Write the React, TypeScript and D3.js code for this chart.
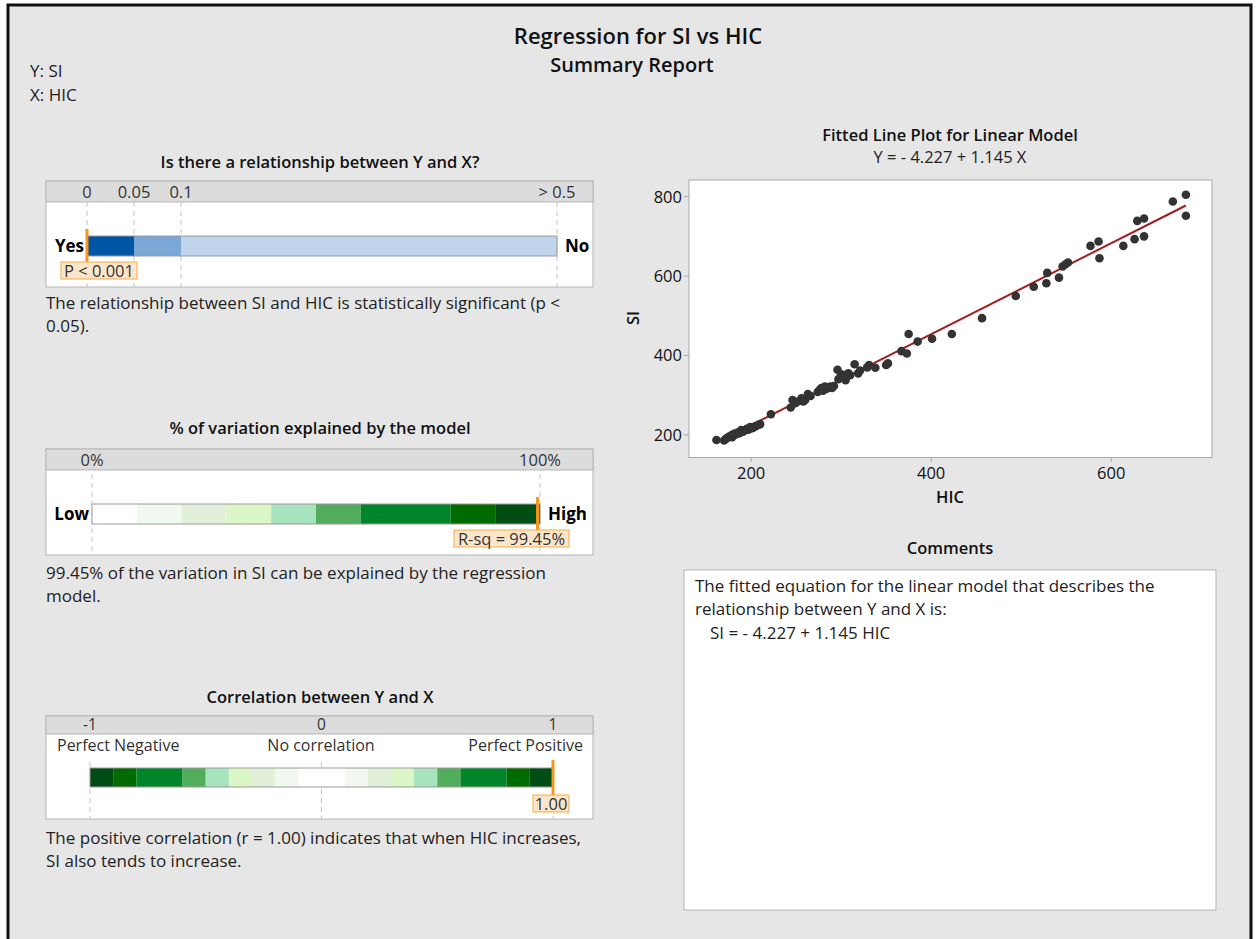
import * as d3 from "d3";

// ---- data ----
const HIC = [
  161.5, 170, 172, 174, 176, 178, 179, 181, 183, 185, 187, 189, 191, 193, 195, 197, 199, 201, 203, 205,
  208, 210, 222, 244, 246, 249, 252, 256, 258, 260, 263, 266, 274, 276, 278, 280, 282, 284, 286, 288,
  290, 292, 296, 297, 299, 301, 303, 305, 308, 310, 315, 319, 321, 329, 331, 338, 350, 352, 367, 373,
  375, 385, 401, 423, 456.5, 494, 514, 528, 529, 542, 546, 549, 552, 577, 586, 587, 613.5, 626, 629,
  636.5, 636.5, 668.5, 683, 683,
];
const SI = [
  187, 186, 190, 193, 196, 199, 194, 203, 201, 206, 204, 212, 208, 211, 215, 213, 220, 217, 219, 222,
  225, 227, 252, 269, 288, 280, 284, 292, 284, 288, 303, 298, 308, 313, 318, 311, 322, 316, 320, 322,
  318, 323, 364, 340, 345, 352, 349, 338, 355, 350, 378, 355, 362, 370, 376, 369, 376, 380, 411, 405,
  454, 435, 442, 454, 494, 550, 573, 582, 608, 596, 624, 629, 634, 676, 687, 645, 676, 693, 739,
  745, 700, 788, 805, 752,
];
const INTERCEPT = -4.227;
const SLOPE = 1.145;
const X_TICKS = [200, 400, 600];
const Y_TICKS = [200, 400, 600, 800];

const P_TICKS = [0, 0.05, 0.1, 0.5];
const P_TICK_LABELS = ["0", "0.05", "0.1", "> 0.5"];
const P_BREAKS = [0, 0.05, 0.1, 0.5];
const P_COLORS = ["#0055a5", "#7ba7d7", "#bfd3eb"];
const P_VALUE = 0;

const RSQ_TICKS = [0, 100];
const RSQ_TICK_LABELS = ["0%", "100%"];
const RSQ_BREAKS = [0, 10, 20, 30, 40, 50, 60, 80, 90, 100];
const GREENS = ["#ffffff", "#f1f8ef", "#e2f0da", "#dbf7c7", "#a7e3bd", "#52ad5d", "#00862a", "#006b00", "#004e15"];
const RSQ_VALUE = 99.45;

const R_TICKS = [-1, 0, 1];
const R_TICK_LABELS = ["-1", "0", "1"];
const R_BREAKS = [-1, -0.9, -0.8, -0.6, -0.5, -0.4, -0.3, -0.2, -0.1, 0.1, 0.2, 0.3, 0.4, 0.5, 0.6, 0.8, 0.9, 1];
const R_COLORS = [...GREENS.slice(1).reverse(), "#ffffff", ...GREENS.slice(1)];
const R_VALUE = 1.0;

const FONT = "'Open Sans', 'Noto Sans', sans-serif";
const BG = "#e6e6e6";
const ORANGE = "#f7941d";
const BODY = 17;
const SMALL = 16.5;

type GaugeProps = {
  top: number;
  bottom: number;
  headerH: number;
  tickSize?: number;
  scale: d3.ScaleLinear<number, number>;
  ticks: number[];
  tickLabels: string[];
  breaks: number[];
  colors: string[];
  value: number;
  barY: number;
  barH: number;
  dashTop: number;
  markerTop: number;
  markerBottom: number;
  label: string;
  labelBox: [number, number]; // x0, x1
  left: string;
  right: string;
};

function Gauge(p: GaugeProps) {
  const x0 = 46;
  const x1 = 593;
  const mx = p.scale(p.value);
  const [lx0, lx1] = p.labelBox;
  return (
    <g>
      <rect x={x0} y={p.top} width={x1 - x0} height={p.bottom - p.top} fill="#fff" stroke="#b5b5b5" />
      <rect x={x0} y={p.top} width={x1 - x0} height={p.headerH} fill="#dcdcdc" stroke="#b5b5b5" />
      {p.ticks.map((t, i) => (
        <g key={i}>
          <line
            x1={p.scale(t)}
            x2={p.scale(t)}
            y1={p.dashTop}
            y2={p.bottom}
            stroke="#c4c4c4"
            strokeDasharray="5,4"
          />
          <text
            x={p.scale(t)}
            y={p.top + p.headerH - 4}
            textAnchor="middle"
            fontSize={p.tickSize ?? SMALL}
            fill="#333"
          >
            {p.tickLabels[i]}
          </text>
        </g>
      ))}
      {p.colors.map((c, i) => (
        <rect
          key={i}
          x={p.scale(p.breaks[i])}
          y={p.barY}
          width={p.scale(p.breaks[i + 1]) - p.scale(p.breaks[i])}
          height={p.barH}
          fill={c}
        />
      ))}
      <rect
        x={p.scale(p.breaks[0])}
        y={p.barY}
        width={p.scale(p.breaks[p.breaks.length - 1]) - p.scale(p.breaks[0])}
        height={p.barH}
        fill="none"
        stroke="#9a9a9a"
      />
      {p.left && (
        <text x={p.scale(p.breaks[0]) - 3} y={p.barY + p.barH / 2 + 6} textAnchor="end" fontSize={17} fontWeight={700}>
          {p.left}
        </text>
      )}
      {p.right && (
        <text
          x={p.scale(p.breaks[p.breaks.length - 1]) + 8}
          y={p.barY + p.barH / 2 + 6}
          fontSize={17}
          fontWeight={700}
        >
          {p.right}
        </text>
      )}
      <line x1={mx} x2={mx} y1={p.markerTop} y2={p.markerBottom} stroke={ORANGE} strokeWidth={3} />
      <rect x={lx0} y={p.markerBottom} width={lx1 - lx0} height={17} fill="#fbe6cb" stroke="#f6ab45" />
      <text x={(lx0 + lx1) / 2} y={p.markerBottom + 14.5} textAnchor="middle" fontSize={SMALL} fill="#333">
        {p.label}
      </text>
    </g>
  );
}

export default function App() {
  const W = 1257;
  const H = 939;

  const pScale = d3.scaleLinear().domain(P_TICKS).range([87, 134, 181, 557]);
  const rsqScale = d3.scaleLinear().domain([0, 100]).range([92, 540]);
  const rScale = d3.scaleLinear().domain([-1, 1]).range([90, 553]);

  const x = d3.scaleLinear().domain([131, 712]).range([689, 1212]);
  const y = d3.scaleLinear().domain([143, 842]).range([457.5, 180]);
  const [minX, maxX] = d3.extent(HIC) as [number, number];
  const fit = d3
    .line<number>()
    .x((d) => x(d))
    .y((d) => y(INTERCEPT + SLOPE * d))([minX, maxX]);

  return (
    <div style={{ position: "absolute", left: 0, top: 0 }}>
      <svg width={W} height={H} style={{ display: "block", fontFamily: FONT }}>
        <rect x={0} y={0} width={W} height={H} fill="#fff" />
        <rect x={8} y={5} width={1243} height={H} fill={BG} stroke="#111" strokeWidth={3} />

        <text x={638} y={44} textAnchor="middle" fontSize={22} fontWeight={600} fill="#111">
          Regression for SI vs HIC
        </text>
        <text x={632} y={72} textAnchor="middle" fontSize={20} fontWeight={600} fill="#111">
          Summary Report
        </text>
        <text x={30} y={77} fontSize={BODY} fill="#222">Y: SI</text>
        <text x={30} y={101} fontSize={BODY} fill="#222">X: HIC</text>

        {/* relationship */}
        <text x={320} y={168} textAnchor="middle" fontSize={16.5} fontWeight={600} fill="#111">
          Is there a relationship between Y and X?
        </text>
        <Gauge
          top={181}
          bottom={287}
          headerH={21}
          scale={pScale}
          ticks={P_TICKS}
          tickLabels={P_TICK_LABELS}
          breaks={P_BREAKS}
          colors={P_COLORS}
          value={P_VALUE}
          barY={236}
          barH={20}
          dashTop={202}
          markerTop={229}
          markerBottom={262}
          label="P < 0.001"
          labelBox={[61, 137]}
          left="Yes"
          right="No"
        />
        <text x={46} y={309} fontSize={BODY} fill="#222">
          The relationship between SI and HIC is statistically significant (p &lt;
        </text>
        <text x={46} y={332} fontSize={BODY} fill="#222">0.05).</text>

        {/* R-sq */}
        <text x={320} y={434} textAnchor="middle" fontSize={16.5} fontWeight={600} fill="#111">
          % of variation explained by the model
        </text>
        <Gauge
          top={449}
          bottom={555}
          headerH={21}
          scale={rsqScale}
          ticks={RSQ_TICKS}
          tickLabels={RSQ_TICK_LABELS}
          breaks={RSQ_BREAKS}
          colors={GREENS}
          value={RSQ_VALUE}
          barY={504}
          barH={20}
          dashTop={474}
          markerTop={497}
          markerBottom={530}
          label={`R-sq = ${RSQ_VALUE.toFixed(2)}%`}
          labelBox={[454, 569]}
          left="Low"
          right="High"
        />
        <text x={46} y={579} fontSize={BODY} fill="#222">
          99.45% of the variation in SI can be explained by the regression
        </text>
        <text x={46} y={602} fontSize={BODY} fill="#222">model.</text>

        {/* correlation */}
        <text x={320} y={703} textAnchor="middle" fontSize={16.5} fontWeight={600} fill="#111">
          Correlation between Y and X
        </text>
        <Gauge
          top={716}
          bottom={819}
          headerH={18}
          tickSize={15.5}
          scale={rScale}
          ticks={R_TICKS}
          tickLabels={R_TICK_LABELS}
          breaks={R_BREAKS}
          colors={R_COLORS}
          value={R_VALUE}
          barY={768}
          barH={19}
          dashTop={762}
          markerTop={760}
          markerBottom={795}
          label={R_VALUE.toFixed(2)}
          labelBox={[533, 569]}
          left=""
          right=""
        />
        <text x={57} y={751} fontSize={16} fill="#333">Perfect Negative</text>
        <text x={321} y={751} textAnchor="middle" fontSize={16} fill="#333">No correlation</text>
        <text x={583} y={751} textAnchor="end" fontSize={16} fill="#333">Perfect Positive</text>
        <text x={46} y={844} fontSize={BODY} fill="#222">
          The positive correlation (r = 1.00) indicates that when HIC increases,
        </text>
        <text x={46} y={867} fontSize={BODY} fill="#222">SI also tends to increase.</text>

        {/* fitted line plot */}
        <text x={950} y={141} textAnchor="middle" fontSize={16.5} fontWeight={600} fill="#111">
          Fitted Line Plot for Linear Model
        </text>
        <text x={950} y={163} textAnchor="middle" fontSize={SMALL} fill="#222">
          Y = - 4.227 + 1.145 X
        </text>
        <rect x={689} y={180} width={523} height={277.5} fill="#fff" stroke="#a8a8a8" />
        {Y_TICKS.map((t) => (
          <g key={t}>
            <line x1={684} x2={689} y1={y(t)} y2={y(t)} stroke="#a8a8a8" />
            <text x={682} y={y(t) + 6} textAnchor="end" fontSize={SMALL} fill="#111">
              {t}
            </text>
          </g>
        ))}
        {X_TICKS.map((t) => (
          <g key={t}>
            <line x1={x(t)} x2={x(t)} y1={457.5} y2={462} stroke="#a8a8a8" />
            <text x={x(t)} y={479} textAnchor="middle" fontSize={SMALL} fill="#111">
              {t}
            </text>
          </g>
        ))}
        <text
          transform={`translate(639, 318) rotate(-90)`}
          textAnchor="middle"
          fontSize={16.5}
          fontWeight={600}
          fill="#111"
        >
          SI
        </text>
        <text x={950} y={503} textAnchor="middle" fontSize={16.5} fontWeight={600} fill="#111">
          HIC
        </text>
        <path d={fit ?? ""} stroke="#a31f1f" strokeWidth={2} fill="none" />
        {HIC.map((h, i) => (
          <circle key={i} cx={x(h)} cy={y(SI[i])} r={4.3} fill="#333" />
        ))}

        {/* comments */}
        <text x={950} y={554} textAnchor="middle" fontSize={16.5} fontWeight={600} fill="#111">
          Comments
        </text>
        <rect x={684} y={570} width={532} height={340} fill="#fff" stroke="#b5b5b5" />
        <text x={695} y={592} fontSize={BODY} fill="#222">
          The fitted equation for the linear model that describes the
        </text>
        <text x={695} y={615} fontSize={BODY} fill="#222">relationship between Y and X is:</text>
        <text x={710} y={639} fontSize={BODY} fill="#222">SI = - 4.227 + 1.145 HIC</text>
      </svg>
    </div>
  );
}
